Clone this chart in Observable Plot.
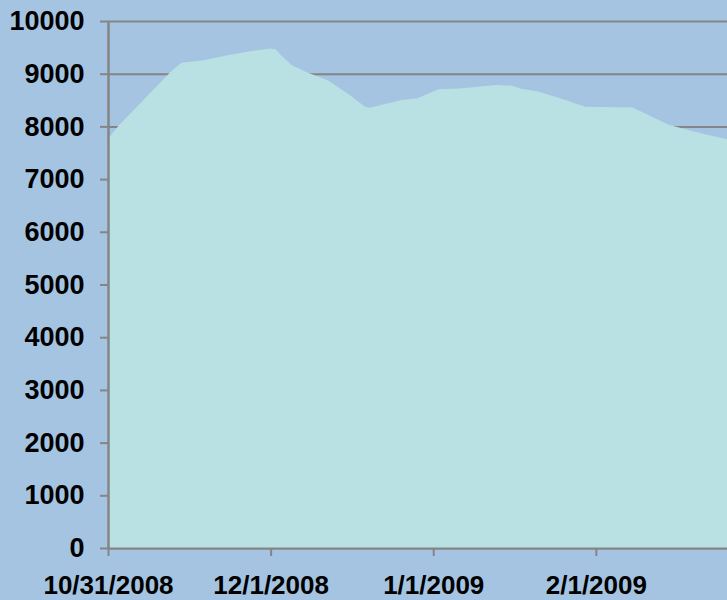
<!DOCTYPE html>
<html>
<head>
<meta charset="utf-8">
<script src="https://cdn.jsdelivr.net/npm/d3@7"></script>
<script src="https://cdn.jsdelivr.net/npm/@observablehq/plot@0.6"></script>
<style>
  html, body { margin: 0; padding: 0; background: #a4c4e2; }
  #chart svg { display: block; }
</style>
</head>
<body>
<div id="chart"></div>
<script>
const dates = ["2008-10-31", "2008-11-02", "2008-11-12", "2008-11-14", "2008-11-18", "2008-11-23", "2008-11-28",
  "2008-12-01", "2008-12-02", "2008-12-03", "2008-12-05", "2008-12-08", "2008-12-12", "2008-12-16", "2008-12-19",
  "2008-12-20", "2008-12-22", "2008-12-26", "2008-12-29", "2009-01-02", "2009-01-06", "2009-01-10", "2009-01-13",
  "2009-01-16", "2009-01-18", "2009-01-21", "2009-01-25", "2009-01-30", "2009-02-08", "2009-02-11", "2009-02-15",
  "2009-02-21", "2009-02-26"];
const values = [7760, 8010, 9040, 9210, 9250, 9355, 9440,
  9480, 9460, 9350, 9165, 9025, 8870, 8600, 8375,
  8355, 8405, 8500, 8535, 8705, 8720, 8755, 8785,
  8770, 8710, 8660, 8540, 8375, 8360, 8215, 8025,
  7870, 7755];
const xTickLabels = ["2008-10-31", "2008-12-01", "2009-01-01", "2009-02-01"];
const yTicks = [0, 1000, 2000, 3000, 4000, 5000, 6000, 7000, 8000, 9000, 10000];

const parse = d3.utcParse("%Y-%m-%d");
const data = dates.map((d, i) => ({date: parse(d), value: values[i]}));
const xTicks = xTickLabels.map(parse);
const xStart = parse("2008-10-31");
const xEnd = parse("2009-02-26");
const fmt = d3.utcFormat("%-m/%-d/%Y");
const grey = "#858585";

const chart = Plot.plot({
  width: 727,
  height: 600,
  marginLeft: 108,
  marginRight: 0,
  marginTop: 21,
  marginBottom: 52,
  style: {background: "#a4c4e2", fontFamily: "'Liberation Sans', Arial, sans-serif", fontWeight: "bold", color: "#000"},
  x: {type: "utc", domain: [xStart, xEnd]},
  y: {domain: [0, 10000]},
  marks: [
    Plot.gridY(yTicks, {stroke: grey, strokeOpacity: 1, strokeWidth: 2}),
    Plot.areaY(data, {x: "date", y: "value", fill: "#b9e0e3", curve: "linear"}),
    Plot.ruleX([xStart], {stroke: grey, strokeWidth: 2.5}),
    Plot.ruleY([0], {stroke: grey, strokeWidth: 2}),
    Plot.axisY({ticks: yTicks, tickSize: 8, tickPadding: 16, stroke: grey, strokeWidth: 2, fontSize: 27, label: null, tickFormat: d => String(d)}),
    Plot.axisX({ticks: xTicks, tickSize: 8, tickPadding: 19, stroke: grey, strokeWidth: 2, fontSize: 26, label: null, tickFormat: fmt})
  ]
});
document.getElementById("chart").appendChild(chart);
</script>
</body>
</html>
